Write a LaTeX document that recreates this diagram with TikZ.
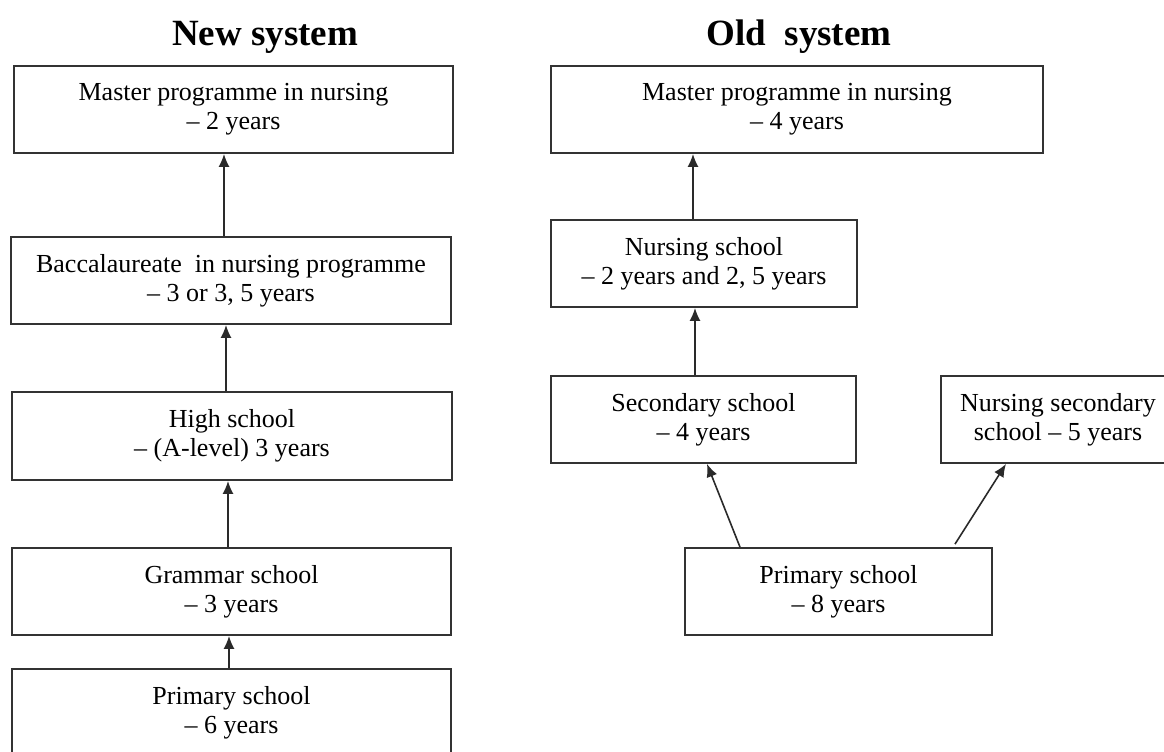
\documentclass[tikz,border=0pt]{standalone}
\usepackage{fontspec}
\setmainfont{Liberation Serif}
\usepackage{tikz}
\usetikzlibrary{arrows.meta}
\definecolor{boxgray}{HTML}{333333}
\definecolor{arrowgray}{HTML}{2a2a2a}
\newcommand{\pxu}{0.5pt}
\tikzset{
  stage/.style={draw=boxgray, line width=0.9pt, align=center, inner sep=0pt,
    minimum height=87*\pxu},
  uparrow/.style={-{Latex[length=6.5pt,width=5.5pt]}, line width=0.8pt, arrowgray},
  heading/.style={anchor=base, font=\fontsize{18.5}{22}\selectfont\bfseries},
}
\begin{document}
\begin{tikzpicture}[x=0.5pt, y=-0.5pt, font=\fontsize{13}{14.5}\selectfont]
    \useasboundingbox (0,0) rectangle (1164,751);
    \clip (0,0) rectangle (1164,751);
    %% --- Headings ---
    \node[heading] (newHead) at (265,45) {New system};
    \node[heading] (oldHead) at (799,45) {Old\ \ system};
    %% --- New system: one chain of stages ---
    \node[stage, minimum width=439*\pxu] (newMaster) at (233.5,109.5)
      {Master programme in nursing\\-- 2 years};
    \node[stage, minimum width=440*\pxu] (newBacc) at (231,280.5)
      {Baccalaureate\ \ in nursing programme\\-- 3 or 3, 5 years};
    \node[stage, minimum width=440*\pxu, minimum height=88*\pxu] (newHigh) at (232,436)
      {High school\\-- (A-level) 3 years};
    \node[stage, minimum width=439*\pxu] (newGrammar) at (231.5,591.5)
      {Grammar school\\-- 3 years};
    \node[stage, minimum width=439*\pxu] (newPrimary) at (231.5,712.5)
      {Primary school\\-- 6 years};
    %% arrows a little left of the box centres
    \foreach \lo/\hi/\dx in {newBacc/newMaster/-7, newHigh/newBacc/-6,
        newGrammar/newHigh/-3.5, newPrimary/newGrammar/-2.5} {
      \draw[uparrow] ([xshift=\dx*\pxu]\lo.north)
        -- ([xshift=\dx*\pxu]\lo.north |- \hi.south);
    }
    %% --- Old system ---
    \node[stage, minimum width=492*\pxu] (oldMaster) at (797,109.5)
      {Master programme in nursing\\-- 4 years};
    \node[stage, minimum width=306*\pxu] (oldNursing) at (704,263.5)
      {Nursing school\\-- 2 years and 2, 5 years};
    \node[stage, minimum width=305*\pxu] (oldSecondary) at (703.5,419.5)
      {Secondary school\\-- 4 years};
    \node[stage, minimum width=234*\pxu] (oldNursingSec) at (1058,419.5)
      {Nursing secondary\\school -- 5 years};
    \node[stage, minimum width=307*\pxu] (oldPrimary) at (838.5,591.5)
      {Primary school\\-- 8 years};
    \foreach \lo/\hi/\dx in {oldNursing/oldMaster/-11, oldSecondary/oldNursing/-8.5} {
      \draw[uparrow] ([xshift=\dx*\pxu]\lo.north)
        -- ([xshift=\dx*\pxu]\lo.north |- \hi.south);
    }
    %% two branches out of primary school
    \draw[uparrow] (oldPrimary.north -| 740,0) -- (oldSecondary.south -| 707,0);
    \draw[uparrow] ([yshift=3*\pxu]oldPrimary.north -| 955,0)
      -- (oldNursingSec.south -| 1006,0);
  \end{tikzpicture}
\end{document}
